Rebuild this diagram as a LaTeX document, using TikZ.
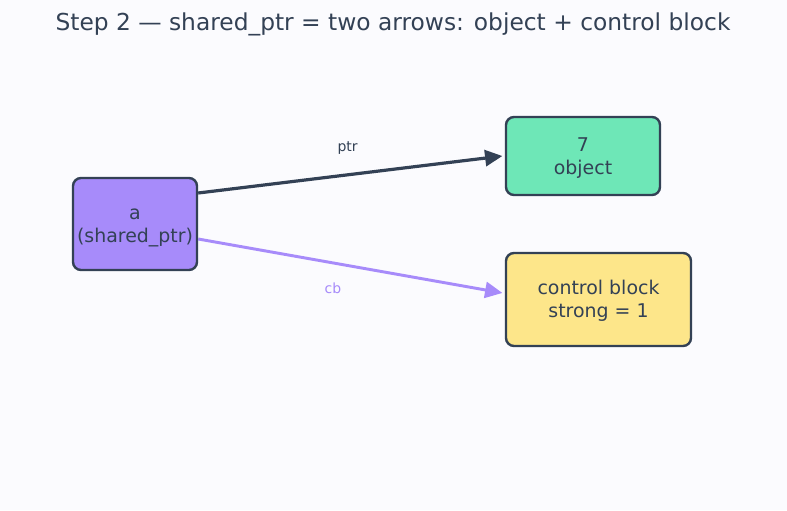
\documentclass[tikz,border=0pt]{standalone}
\usepackage{fontspec}
\setmainfont{DejaVu Sans}
\usetikzlibrary{arrows.meta}

\definecolor{bg_page}{HTML}{FBFBFE}
\definecolor{ink_dark}{HTML}{334155}
\definecolor{fill_ptr}{HTML}{A78BFA}
\definecolor{fill_obj}{HTML}{6EE7B7}
\definecolor{fill_cb}{HTML}{FDE68A}

\tikzset{
  memblock/.style={rectangle, rounded corners=6pt, draw=ink_dark, line width=1.8pt,
    text=ink_dark, align=center, font=\fontsize{14.2}{17.2}\selectfont, inner sep=0pt,
    text height=29.5pt, text depth=2.5pt},
  edgelabel/.style={font=\fontsize{10.5}{12}\selectfont},
  ptrarrow/.style={line width=2.4pt, -{Triangle[length=13pt, width=12pt]}},
}

\begin{document}
\begin{tikzpicture}[x=0.75pt, y=-0.75pt]
    \useasboundingbox[fill=bg_page] (0,0) rectangle (787,510);

    \node[text=ink_dark, font=\fontsize{17.5}{21}\selectfont]
      (title) at (393,24)
      {Step 2 — shared\_ptr = two arrows: object + control block};

    \node[memblock, fill=fill_ptr, minimum width=93pt, minimum height=69pt]
      (a) at (135,224) {a\\(shared\_ptr)};
    \node[memblock, fill=fill_obj, minimum width=115.5pt, minimum height=58.5pt]
      (obj) at (583,156) {7\\object};
    \node[memblock, fill=fill_cb, minimum width=138.75pt, minimum height=69.75pt]
      (cblock) at (598.5,299.5) {control block\\strong = 1};

    \draw[ptrarrow, ink_dark]
      ([yshift=23.25pt]a.east) -- ([xshift=-1.8pt]obj.west)
      node[midway, edgelabel, text=ink_dark, xshift=-2pt, yshift=20pt] {ptr};
    \draw[ptrarrow, fill_ptr, line width=2.2pt]
      ([yshift=-11.25pt]a.east) -- ([xshift=-1.8pt, yshift=4.9pt]cblock.west)
      node[midway, edgelabel, text=fill_ptr, xshift=-13pt, yshift=-16.5pt] {cb};
  \end{tikzpicture}
\end{document}
